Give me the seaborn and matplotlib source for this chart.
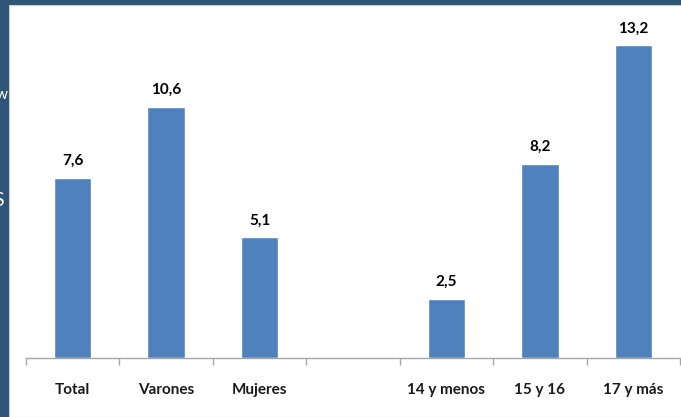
import numpy as np
import pandas as pd
import matplotlib
matplotlib.use('Agg')
import matplotlib.pyplot as plt
from matplotlib.patches import Rectangle
import seaborn as sns

'''데이터'''
categorias = ['Total', 'Varones', 'Mujeres', ' ', '14 y menos', '15 y 16', '17 y más']
valores = [7.6, 10.6, 5.1, np.nan, 2.5, 8.2, 13.2]
etiquetas = ['7,6', '10,6', '5,1', '', '2,5', '8,2', '13,2']

df = pd.DataFrame({'cat': categorias, 'val': valores})

sns.set_style('white')
plt.rcParams['font.family'] = ['Lato', 'DejaVu Sans']

fig = plt.figure(figsize=(6.81, 4.17), dpi=100)
fig.patch.set_facecolor('#2e5478')

# white panel of the slide
fig.patches.append(Rectangle((9 / 681, 0), 1, 1 - 5 / 417, transform=fig.transFigure,
                             facecolor='white', edgecolor='#c8c8c8', lw=0.8, zorder=-5))

# clipped text leftovers on the left edge
fig.text(-0.006, 1 - 95 / 417, 'w', color='white', fontsize=11, va='center', ha='left')
fig.text(-0.010, 1 - 200 / 417, 'S', color='white', fontsize=14, va='center', ha='left')

ax = fig.add_axes([26 / 681, 1 - 358 / 417, 654 / 681, 353 / 417])
ax.set_facecolor('none')
ax.set_zorder(2)

sns.barplot(data=df, x='cat', y='val', order=categorias, color='#4f81bd',
            saturation=1, width=0.4, errorbar=None, ax=ax)

for i, (v, t) in enumerate(zip(valores, etiquetas)):
    if not np.isnan(v):
        ax.annotate(t, (i, v), xytext=(0, 7), textcoords='offset points',
                    ha='center', va='bottom', fontsize=11, fontweight='bold', color='black')

ax.set_xlim(-0.5, 6.5)
ax.set_ylim(0, 14.9)
ax.set_xlabel('')
ax.set_ylabel('')
ax.set_yticks([])

for s in ['left', 'right', 'top']:
    ax.spines[s].set_visible(False)
ax.spines['bottom'].set_color('#a6a6a6')
ax.spines['bottom'].set_linewidth(1)

ax.set_xticks(np.arange(-0.5, 7, 1), minor=True)
ax.tick_params(axis='x', which='minor', bottom=True, direction='out', length=5,
               color='#a6a6a6', width=1)
ax.tick_params(axis='x', which='major', bottom=True, length=0, pad=18)
for lab in ax.get_xticklabels():
    lab.set_fontsize(11)
    lab.set_fontweight('bold')
    lab.set_color('#1a1a1a')

fig.savefig('out.png', dpi=100, facecolor=fig.get_facecolor())
